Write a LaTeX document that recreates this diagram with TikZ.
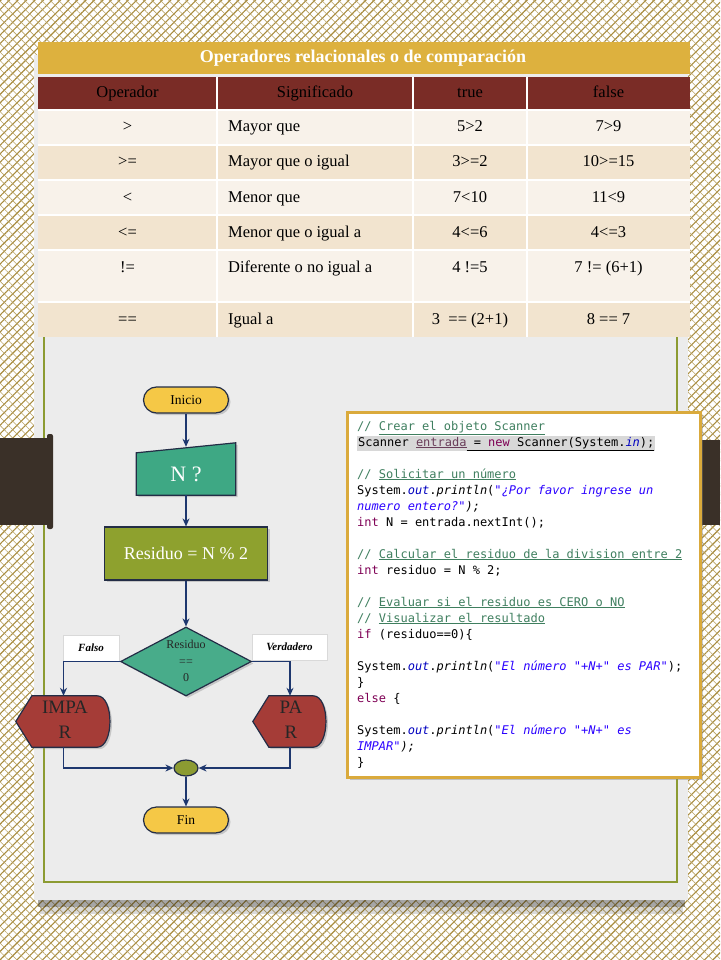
\documentclass[tikz,border=0pt]{standalone}
\usepackage{fontspec}
\setmainfont{Liberation Serif}
\setmonofont{DejaVu Sans Mono}
\usetikzlibrary{arrows.meta, shapes.geometric, shadows, patterns.meta, calc}

\definecolor{trama}{RGB}{168,140,62}
\definecolor{oro}{RGB}{221,177,62}
\definecolor{rojo}{RGB}{122,44,38}
\definecolor{filaA}{RGB}{248,242,234}
\definecolor{filaB}{RGB}{242,228,207}
\definecolor{panel}{RGB}{236,236,236}
\definecolor{verde}{RGB}{140,155,50}
\definecolor{banda}{RGB}{58,48,40}
\definecolor{marco}{RGB}{218,170,60}
\definecolor{azul}{RGB}{30,55,110}
\definecolor{contorno}{RGB}{35,45,70}
\definecolor{amarillo}{RGB}{245,200,70}
\definecolor{turquesa}{RGB}{62,168,132}
\definecolor{oliva}{RGB}{142,161,46}
\definecolor{granate}{RGB}{165,60,55}
\definecolor{comentario}{RGB}{63,127,95}
\definecolor{clave}{RGB}{127,0,85}
\definecolor{cadena}{RGB}{42,0,255}
\definecolor{campo}{RGB}{0,0,192}
\definecolor{resalte}{RGB}{216,216,216}
\definecolor{variable}{RGB}{106,62,90}

% Colouring of the Java code.
\newcommand\cmt[1]{\textcolor{comentario}{//\ \underline{#1}}}
\newcommand\kw[1]{\textcolor{clave}{#1}}
\newcommand\cad[1]{\textcolor{cadena}{\itshape #1}}
\newcommand\fld[1]{\textcolor{campo}{\itshape #1}}
\newcommand\met[1]{{\itshape #1}}

\begin{document}
\begin{tikzpicture}[%
        x = 1pt, y = -1pt,
        celda/.style = {inner sep = 0, text height = 11.5, text depth = 3.5, font = \fontsize{16.5}{19}\selectfont},
        cabecera/.style = {celda, text = black},
        titulo/.style = {inner sep = 0, text = white, font = \bfseries\fontsize{18}{20}\selectfont},
        sombra/.style = {drop shadow = {shadow xshift = 2pt, shadow yshift = -2pt, opacity = 0.35}},
        terminal/.style = {draw = contorno, line width = 1.2, fill = amarillo, rounded corners = 13,
            minimum width = 85, minimum height = 26, inner sep = 0, sombra,
            font = \fontsize{13.5}{15}\selectfont},
        hueco/.style = {inner sep = 0},
        proceso/.style = {draw = contorno, line width = 1.2, fill = oliva, minimum width = 163,
            minimum height = 53, inner sep = 0, sombra, text = white, font = \fontsize{18}{20}\selectfont},
        decision/.style = {diamond, draw = contorno, line width = 1.2, fill = turquesa!95!white,
            minimum width = 131, minimum height = 69, inner sep = 0, sombra},
        forma/.style = {draw = contorno, line width = 1.2, sombra},
        etiqueta/.style = {draw = black!15, fill = white, inner sep = 0, minimum height = 26,
            font = \bfseries\itshape\fontsize{11}{13}\selectfont},
        union/.style = {ellipse, draw = contorno, line width = 1.2, fill = verde, minimum width = 24,
            minimum height = 16, inner sep = 0},
        flecha/.style = {draw = azul, line width = 1.1, -{Stealth[length = 8pt, width = 7pt]}},
        codigo/.style = {anchor = base west, inner sep = 0, font = \ttfamily\fontsize{12}{16}\selectfont}
    ]

        \useasboundingbox (0,0) rectangle (720,960);

        % Patterned background.
        \fill[white] (0,0) rectangle (720,960);
        \fill[pattern = {Lines[angle = 45, distance = 6pt, line width = 1.1pt]}, pattern color = trama]
            (0,0) rectangle (720,960);
        \fill[pattern = {Lines[angle = -45, distance = 6pt, line width = 0.6pt]}, pattern color = trama!80]
            (0,0) rectangle (720,960);

        % The grey sheet with its shadow and the dark bands.
        \fill[black, opacity = 0.35] (38,900) rectangle (685,907);
        \fill[black, opacity = 0.15] (40,907) rectangle (683,914);
        \fill[banda] (690,440) rectangle (720,525);
        \fill[panel] (34,55) rectangle (688,900);
        \draw[verde, line width = 1.5] (44,320) rectangle (677,882);
        \fill[banda] (0,438) rectangle (50,525);
        \fill[banda, rounded corners = 2] (47,434) rectangle (53,529);

        % Table of the operators.
        \fill[oro] (38,42) rectangle (690,74);
        \node[titulo] (tit) at (363,58) {Operadores relacionales o de comparación};
        \fill[rojo] (38,77) rectangle (690,110);
        \foreach \txt/\x [count = \i] in {Operador/127.5, Significado/315, true/470, false/608.5}{%
            \node[cabecera] (cab\i) at (\x,93.5) {\txt};
        }

        % One row per operator: symbol, meaning, true, false, top, bottom, colour, text line.
        \foreach \op/\sig/\si/\no/\a/\b/\c/\ty [count = \i] in {%
            >/Mayor que/5>2/7>9/110/145/filaA/128,
            >=/Mayor que o igual/3>=2/10>=15/145/180/filaB/163,
            </Menor que/7<10/11<9/180/215/filaA/198,
            <=/Menor que o igual a/4<=6/4<=3/215/250/filaB/233,
            !=/Diferente o no igual a/4 !=5/7 != (6+1)/250/302/filaA/268,
            ==/Igual a/3\ \ == (2+1)/8 == 7/302/337/filaB/320}{%
            \fill[\c] (38,\a) rectangle (690,\b);
            \draw[white, line width = 1.5] (38,\a) -- (690,\a);
            \node[celda] (op\i) at (127.5,\ty) {\op};
            \node[celda, anchor = west] (sig\i) at (228,\ty) {\sig};
            \node[celda] (si\i) at (470,\ty) {\si};
            \node[celda] (no\i) at (608.5,\ty) {\no};
        }
        \foreach \x in {217, 413, 527}{%
            \draw[white, line width = 1.5] (\x,77) -- (\x,337);
        }

        % Box with the Java code.
        \node[draw = marco, line width = 3, fill = white, minimum width = 353, minimum height = 365,
            inner sep = 0, drop shadow = {shadow xshift = 3pt, shadow yshift = -3pt, opacity = 0.4}]
            (caja) at (523.5,594.5) {};
        \node[codigo] (lin0) at (357,430) {\cmt{Crear el objeto Scanner}};
        \node[codigo] (lin1) at (357,446) {\setlength\fboxsep{1pt}\colorbox{resalte}{Scanner \textcolor{variable}{\underline{entrada}}\underline{ = \kw{new} Scanner(System.\fld{in});}}};
        \node[codigo] (lin3) at (357,478) {\cmt{Solicitar un número}};
        \node[codigo] (lin4) at (357,494) {System.\fld{out}.\met{println}(\cad{"¿Por favor ingrese un}};
        \node[codigo] (lin5) at (357,510) {\cad{numero entero?"}\met{);}};
        \node[codigo] (lin6) at (357,526) {\kw{int} N = entrada.nextInt();};
        \node[codigo] (lin8) at (357,558) {\cmt{Calcular el residuo de la division entre 2}};
        \node[codigo] (lin9) at (357,574) {\kw{int} residuo = N \% 2;};
        \node[codigo] (lin11) at (357,606) {\cmt{Evaluar si el residuo es CERO o NO}};
        \node[codigo] (lin12) at (357,622) {\cmt{Visualizar el resultado}};
        \node[codigo] (lin13) at (357,638) {\kw{if} (residuo==0)\{};
        \node[codigo] (lin15) at (357,670) {System.\fld{out}.\met{println}(\cad{"El número "+N+" es PAR"});};
        \node[codigo] (lin16) at (357,686) {\}};
        \node[codigo] (lin17) at (357,702) {\kw{else} \{};
        \node[codigo] (lin19) at (357,734) {System.\fld{out}.\met{println}(\cad{"El número "+N+" es}};
        \node[codigo] (lin20) at (357,750) {\cad{IMPAR"}\met{);}};
        \node[codigo] (lin21) at (357,766) {\}};

        % Flowchart: start, input and process.
        \node[terminal] (inicio) at (186,400) {Inicio};
        \node[hueco, minimum width = 99, minimum height = 48] (nin) at (186,471) {};
        \filldraw[forma, fill = turquesa] (nin.south west) -- ($(nin.north west)+(0,6)$)
            -- ($(nin.north east)+(0,-4)$) -- (nin.south east) -- cycle;
        \node[text = white, font = \fontsize{22}{24}\selectfont] (ntxt) at (186,474) {N ?};
        \node[proceso] (resto) at (186,553.5) {Residuo = N \% 2};

        % Decision with its two labels.
        \node[etiqueta, minimum width = 56] (falso) at (91,648) {Falso};
        \node[etiqueta, minimum width = 75] (verd) at (289.5,647) {Verdadero};
        \node[decision] (dec) at (186,661.5) {};
        \node[align = center, text = black!85, font = \fontsize{12}{16.5}\selectfont] (dectxt) at (186,661) {Residuo\\==\\0};

        % The two outputs.
        \node[hueco, minimum width = 95, minimum height = 51] (impar) at (63.5,721.5) {};
        \node[hueco, minimum width = 74, minimum height = 51] (par) at (290,721.5) {};
        \foreach \n in {impar, par}{%
            \filldraw[forma, fill = granate] (\n.west) -- ($(\n.north west)+(16,0)$)
                -- ($(\n.north east)+(-14,0)$)
                .. controls ($(\n.north east)+(3,0)$) and ($(\n.south east)+(3,0)$) .. ($(\n.south east)+(-14,0)$)
                -- ($(\n.south west)+(16,0)$) -- cycle;
        }
        \node[align = center, text = black!85, font = \fontsize{19}{25}\selectfont] (impartxt) at (65,720) {IMPA\\R};
        \node[align = center, text = black!85, font = \fontsize{19}{25}\selectfont] (partxt) at (291,720) {PA\\R};

        % Junction and end.
        \node[union] (junta) at (186,768) {};
        \node[terminal] (fin) at (186,820) {Fin};

        % Connectors.
        \draw[flecha] (inicio) -- (nin.north);
        \draw[flecha] (nin.south) -- (resto.north);
        \draw[flecha] (resto.south) -- (dec.north);
        \draw[flecha] (dec.west) -| (impar.north);
        \draw[flecha] (dec.east) -| (par.north);
        \draw[flecha] (impar.south) |- (junta.west);
        \draw[flecha] (par.south) |- (junta.east);
        \draw[flecha] (junta) -- (fin);
    \end{tikzpicture}
\end{document}
